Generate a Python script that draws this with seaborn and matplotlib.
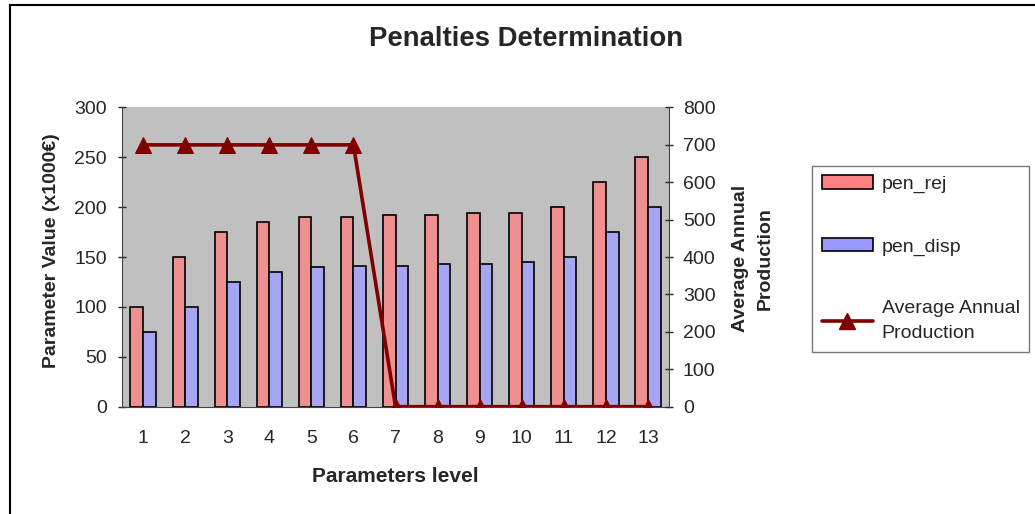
import numpy as np
import pandas as pd
import matplotlib
matplotlib.use("Agg")
import matplotlib.pyplot as plt
import seaborn as sns
from matplotlib.patches import Patch, Rectangle
from matplotlib.lines import Line2D

# data
levels = [str(i) for i in range(1, 14)]
pen_rej = [100, 150, 175, 185, 190, 190, 192, 192, 194, 194, 200, 225, 250]
pen_disp = [75, 100, 125, 135, 140, 141, 141, 143, 143, 145, 150, 175, 200]
avg_prod = [700, 700, 700, 700, 700, 700, 0, 0, 0, 0, 0, 0, 0]

sns.set_style("white")
plt.rcParams["font.family"] = ["Liberation Sans", "DejaVu Sans"]

df = pd.DataFrame({
    "level": levels * 2,
    "value": pen_rej + pen_disp,
    "series": ["pen_rej"] * len(levels) + ["pen_disp"] * len(levels),
})

fig = plt.figure(figsize=(10.35, 5.14), dpi=100)
ax = fig.add_axes([0.1179, 0.2088, 0.5285, 0.5821])
ax.set_facecolor("#C0C0C0")

sns.barplot(
    data=df, x="level", y="value", hue="series",
    palette={"pen_rej": "#FF8080", "pen_disp": "#9999FF"},
    width=0.6, edgecolor="black", linewidth=1.2,
    legend=False, ax=ax,
)

ax2 = ax.twinx()
sns.lineplot(
    x=np.arange(len(levels)), y=avg_prod, ax=ax2,
    color="#800000", linewidth=2.6, marker="^", markersize=11,
    markeredgecolor="#800000",
)

ax.set_xlim(-0.5, len(levels) - 0.5)
ax.set_ylim(0, 300)
ax2.set_ylim(0, 800)
ax.set_yticks(range(0, 301, 50))
ax2.set_yticks(range(0, 801, 100))

# excel style: ticks between categories
ax.set_xticks(np.arange(len(levels)))
ax.set_xticklabels(levels)
ax.set_xticks(np.arange(-0.5, len(levels)), minor=True)
ax.tick_params(axis="x", which="major", length=0, pad=17, labelsize=14)
ax.tick_params(axis="x", which="minor", length=6, direction="inout", width=1)
ax.tick_params(axis="y", length=6, direction="inout", width=1, labelsize=14, pad=8)
ax2.tick_params(axis="y", length=6, direction="inout", width=1, labelsize=14, pad=7)

for a in (ax, ax2):
    for side in ("top", "right", "left", "bottom"):
        a.spines[side].set_visible(False)
ax.spines["left"].set_visible(True)
ax.spines["bottom"].set_visible(True)
ax2.spines["right"].set_visible(True)
ax.spines["left"].set_color("#444444")
ax.spines["bottom"].set_color("#444444")
ax2.spines["right"].set_color("#444444")

ax.set_xlabel("Parameters level", fontsize=15, fontweight="bold", labelpad=14)
ax.set_ylabel("Parameter Value (x1000€)", fontsize=14, fontweight="bold")
ax.yaxis.set_label_coords(-0.113, 0.52)
ax2.set_ylabel("Average Annual\nProduction", fontsize=14, fontweight="bold",
               linespacing=1.6)
ax2.yaxis.set_label_coords(1.115, 0.495)

fig.text(0.508, 0.925, "Penalties Determination", ha="center", va="center",
         fontsize=19.8, fontweight="bold")

handles = [
    Patch(facecolor="#FF8080", edgecolor="black", linewidth=1.2),
    Patch(facecolor="#9999FF", edgecolor="black", linewidth=1.2),
    Line2D([], [], color="#800000", linewidth=2.6, marker="^", markersize=11),
]
leg = fig.legend(
    handles, ["pen_rej", "pen_disp", "Average Annual\nProduction"],
    loc="upper left", bbox_to_anchor=(0.785, 0.678),
    fontsize=14, frameon=True, fancybox=False, labelspacing=2.3,
    handlelength=2.6, handletextpad=0.45, borderpad=0.5, borderaxespad=0,
)
for t in leg.get_texts():
    t.set_linespacing(1.6)
leg.get_frame().set_edgecolor("#555555")
leg.get_frame().set_linewidth(1.0)

# outer chart frame (runs off right and bottom edges)
fig.patches.append(Rectangle((10 / 1035, -0.05), 1.2, 1.04,
                             transform=fig.transFigure, fill=False,
                             edgecolor="black", linewidth=1.5))

fig.savefig("out.png", dpi=100)
